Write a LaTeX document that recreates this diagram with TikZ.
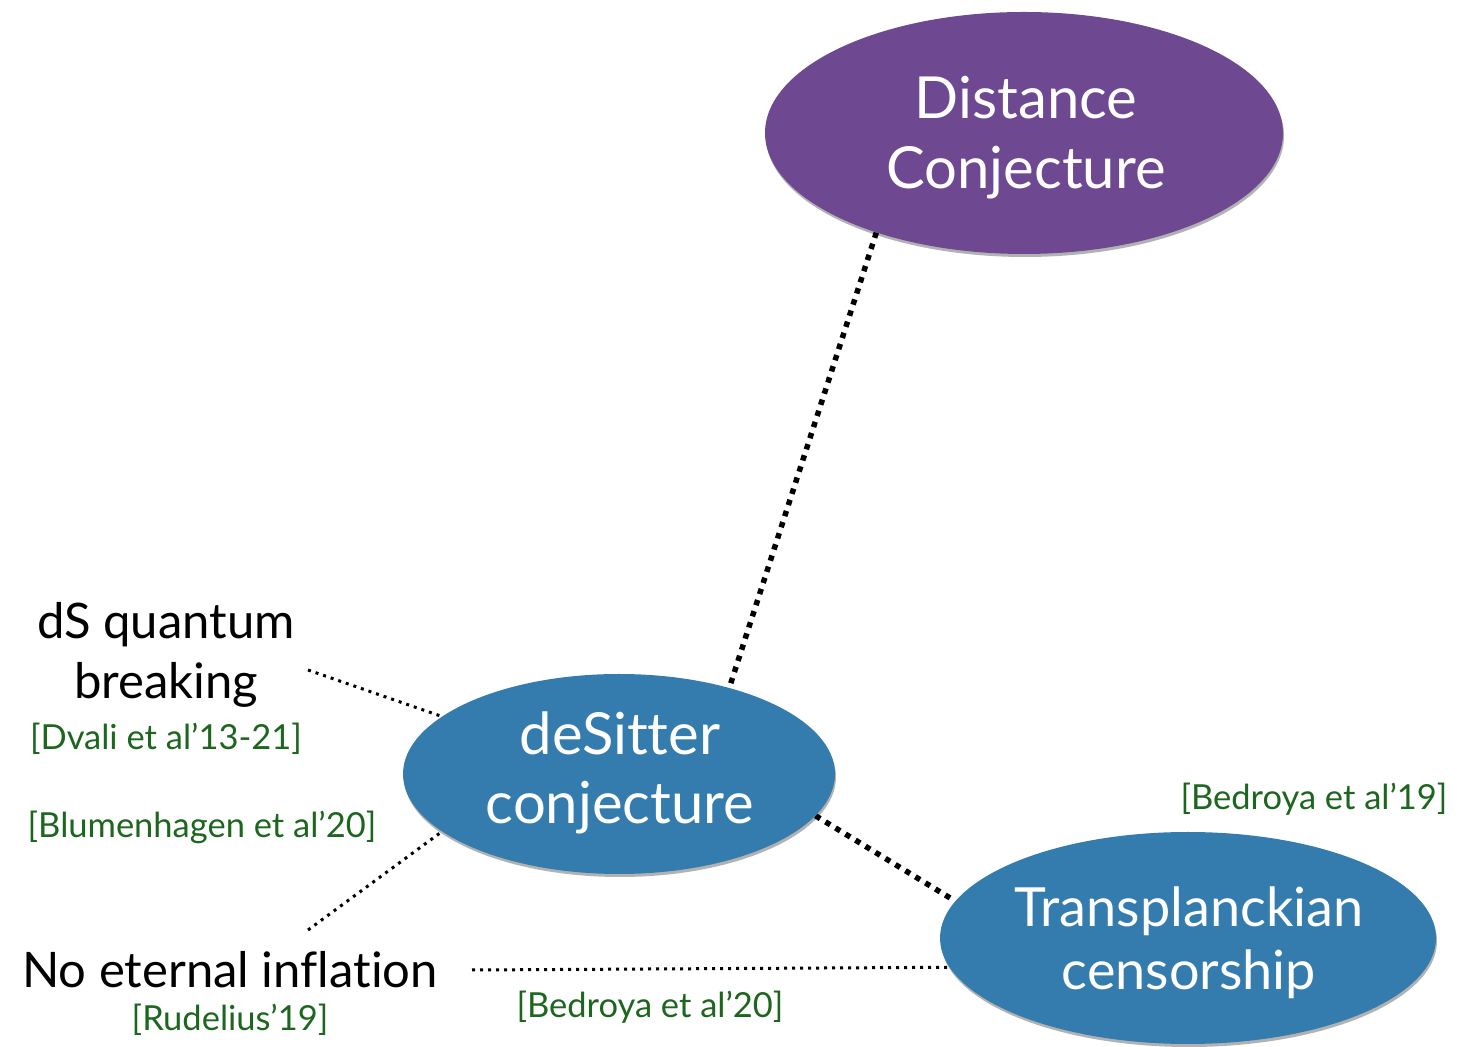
\documentclass[tikz,border=0pt]{standalone}
\usepackage{fontspec}
\setmainfont[Ligatures=NoCommon]{Lato}
\usetikzlibrary{shapes.geometric,shadows,backgrounds}
\definecolor{dpurple}{RGB}{110,73,145}
\definecolor{dblue}{RGB}{52,124,174}
\definecolor{refgreen}{RGB}{28,102,30}
\begin{document}
\begin{tikzpicture}[x=1pt,y=1pt,
  bubble/.style={ellipse, inner sep=0pt, draw=none,
    drop shadow={shadow xshift=1pt, shadow yshift=-3pt, opacity=0.3, fill=black}},
  bigtext/.style={text=white, align=center, inner sep=0pt},
  claim/.style={align=center, inner sep=0pt, font=\fontsize{49}{60}\selectfont},
  ref/.style={text=refgreen, inner sep=0pt, anchor=base, font=\fontsize{34.5}{40}\selectfont},
  strong/.style={line width=5.5pt, dash pattern=on 5.5pt off 6.2pt},
  weak/.style={line width=3pt, dash pattern=on 3pt off 5pt}]
\useasboundingbox (0,0) rectangle (1466,1046);

% bubbles
\node[bubble, fill=dpurple, minimum width=518pt, minimum height=242pt] (dist) at (1024,913) {};
\node[bubble, fill=dblue, minimum width=432pt, minimum height=200pt] (desit) at (619,272) {};
\node[bubble, fill=dblue, minimum width=496pt, minimum height=212pt] (trans) at (1188,108) {};

% bubble texts
\node[bigtext, font=\fontsize{58}{70}\selectfont] (distT) at (1026,908) {Distance\\Conjecture};
\node[bigtext, font=\fontsize{58}{69}\selectfont] (desitT) at (620,273) {deSitter\\conjecture};
\node[bigtext, font=\fontsize{54}{63}\selectfont] (transT) at (1189,103) {Transplanckian\\censorship};

% claims
\node[claim] (dsq) at (166,391) {dS quantum\\breaking};
\node[claim, anchor=base] (noet) at (230,58) {No eternal inflation};

% references
\node[ref] (r1) at (166,296) {[Dvali et al’13-21]};
\node[ref] (r2) at (202,208) {[Blumenhagen et al’20]};
\node[ref] (r3) at (230,16) {[Rudelius’19]};
\node[ref] (r4) at (650,28) {[Bedroya et al’20]};
\node[ref] (r5) at (1314,236) {[Bedroya et al’19]};

% free ends
\coordinate (dsqEnd) at (308,376);
\coordinate (noetEnd) at (308,116);
\coordinate (noetRight) at (472,76);

\begin{scope}[on background layer]
\draw[strong] (dist.214) -- (desit.38.5);
\draw[strong] (desit.-12.5) -- (trans.171.9);
\draw[weak] (dsqEnd) -- (desit.162.9);
\draw[weak] (noetEnd) -- (desit.198.4);
\draw[weak] (noetRight) -- (trans.187.7);
\end{scope}
\end{tikzpicture}
\end{document}
